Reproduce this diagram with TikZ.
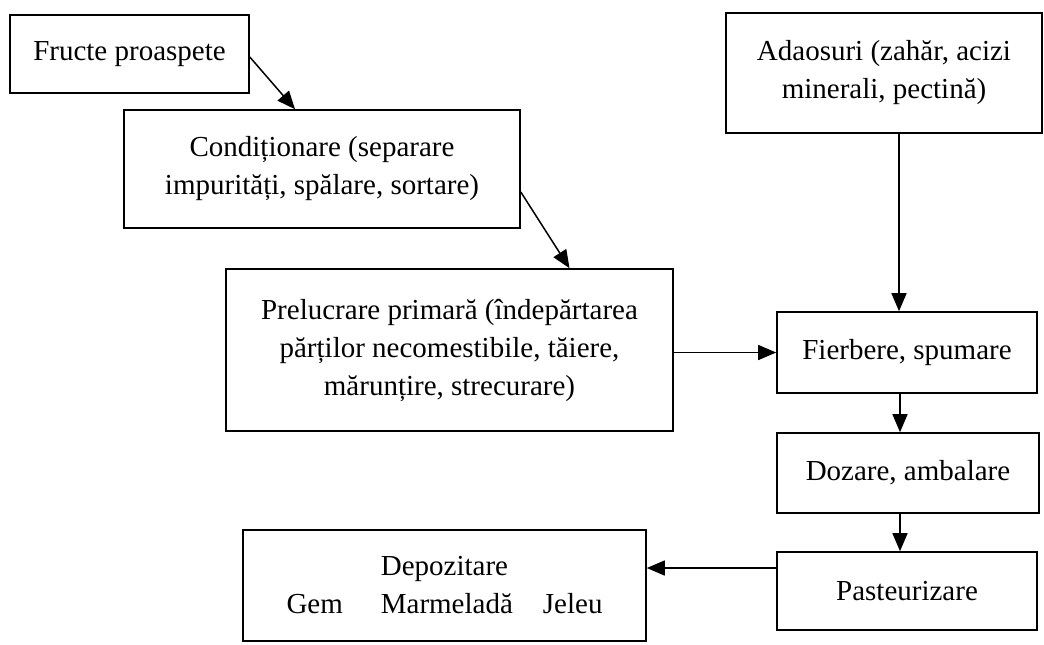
\documentclass[tikz,border=0pt]{standalone}
\usepackage{fontspec}
\setmainfont{Liberation Serif}
\usepackage{tikz}
\usetikzlibrary{arrows.meta,positioning}
\newcommand{\stagefont}{\fontsize{14.5}{19}\selectfont}
\tikzstyle{stage} =[rectangle, draw, line width=0.8pt,
                    align=center, inner sep=2pt,
                    font=\stagefont]
\tikzstyle{edge}  =[->, >={Triangle[length=9pt, width=7.5pt]},
                    line width=0.75pt]

\begin{document}
\begin{tikzpicture}[x=0.5pt, y=-0.5pt, every node/.style={stage}]
            \useasboundingbox (0,0) rectangle (1044,644);
            % left column: fruit preparation
            \node[minimum width=119.5pt, minimum height=39pt] (fructe) at (129.5,54) {Fructe proaspete};
            \node[minimum width=198pt, minimum height=59pt] (cond) at (322,169)
                {Condiționare (separare\\impurități, spălare, sortare)};
            \node[minimum width=223.5pt, minimum height=81pt] (prel) at (449.5,350)
                {Prelucrare primară (îndepărtarea\\părților necomestibile, tăiere,\\mărunțire, strecurare)};
            % right column: cooking and packing
            \node[minimum width=158pt, minimum height=60pt] (adaos) at (884,73)
                {Adaosuri (zahăr, acizi\\minerali, pectină)};
            \node[minimum width=130pt, minimum height=40.5pt] (fierb) at (907,352.5) {Fierbere, spumare};
            \node[minimum width=131pt, minimum height=40pt] (doz) at (908,473) {Dozare, ambalare};
            \node[minimum width=130pt, minimum height=39pt] (past) at (907,591) {Pasteurizare};
            \node[minimum width=201.5pt, minimum height=55.5pt] (depoz) at (444.5,585.5)
                {Depozitare\\Gem\hspace{19pt}Marmeladă\hspace{15pt}Jeleu};
            \draw[edge] ([yshift=-1.5pt]fructe.east) -- ([xshift=-13.5pt]cond.north);
            \draw[edge] ([yshift=-11.5pt]cond.east) -- ([xshift=60pt]prel.north);
            \draw[edge] (prel.east |- fierb.west) -- (fierb.west);
            \draw[edge] ([xshift=-4pt]fierb.north |- adaos.south) -- ([xshift=-4pt]fierb.north);
            \draw[edge] ([xshift=-3.5pt]fierb.south) -- ([xshift=-3.5pt]fierb.south |- doz.north);
            \draw[edge] ([xshift=-3.5pt]fierb.south |- doz.south) -- ([xshift=-3.5pt]fierb.south |- past.north);
            \draw[edge] ([yshift=11.5pt]past.west) -- ([yshift=11.5pt]past.west -| depoz.east);
        \end{tikzpicture}
\end{document}
